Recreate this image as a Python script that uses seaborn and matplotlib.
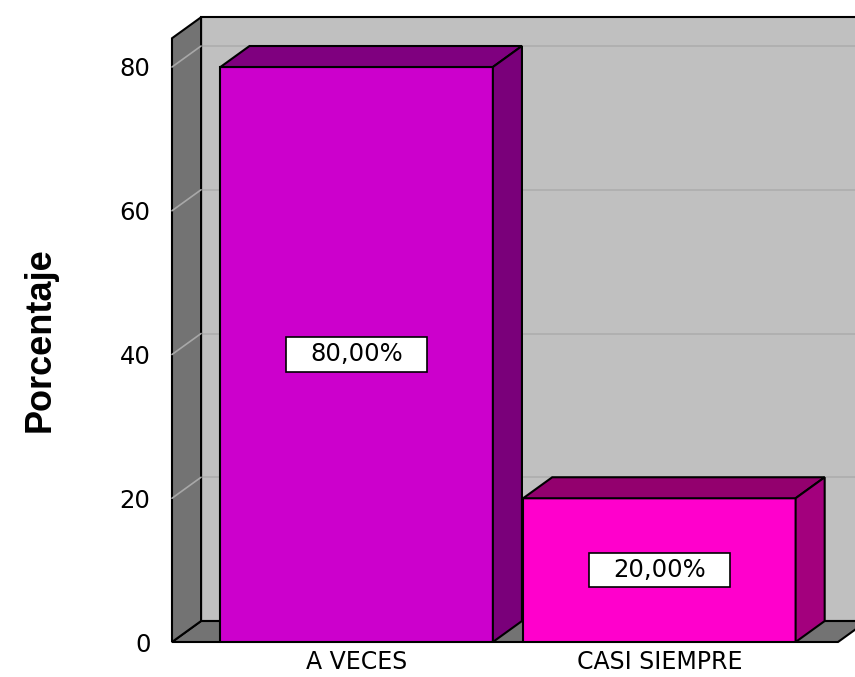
import matplotlib
matplotlib.use("Agg")
import matplotlib.pyplot as plt
from matplotlib.patches import Polygon, Rectangle
import seaborn as sns

# Data
categories = ["A VECES", "CASI SIEMPRE"]
percentages = [80.0, 20.0]
value_labels = ["80,00%", "20,00%"]
y_ticks = [0, 20, 40, 60, 80]

# Colours for each bar: front, top, side
front_colors = ["#CC00CC", "#FF00CC"]
top_colors = ["#7F007F", "#93006E"]
side_colors = ["#7A007A", "#A3007D"]

WALL_BACK = "#C0C0C0"
WALL_SIDE = "#737373"
FLOOR = "#737373"

sns.set_theme(style="white")
plt.rcParams["font.family"] = ["DejaVu Sans"]

fig = plt.figure(figsize=(8.55, 6.77), dpi=100)
ax = fig.add_axes([172 / 855, 35 / 677, 666 / 855, 603.75 / 677])

sns.barplot(x=categories, y=percentages, hue=categories, palette=front_colors,
            width=0.9, edgecolor="black", linewidth=1.5, legend=False,
            saturation=1, ax=ax)
bars = [p for p in ax.patches if isinstance(p, Rectangle)]

XL, XR = -0.61, 1.59
YT = 84
ax.set_xlim(XL, XR)
ax.set_ylim(0, YT)

# depth of the 3D box in data units
DX, DY = 0.096, 2.92

# back wall, floor and left wall
ax.add_patch(Polygon([(XL + DX, DY), (XR + DX, DY), (XR + DX, YT + DY), (XL + DX, YT + DY)],
                     closed=True, fc=WALL_BACK, ec="black", lw=1.5, zorder=0, clip_on=False))
for y in y_ticks[1:]:
    ax.plot([XL + DX, XR + DX], [y + DY, y + DY], color="#ADADAD", lw=1.2,
            zorder=0.5, clip_on=False)
ax.add_patch(Polygon([(XL, 0), (XR, 0), (XR + DX, DY), (XL + DX, DY)],
                     closed=True, fc=FLOOR, ec="black", lw=1.5, zorder=1, clip_on=False))
ax.add_patch(Polygon([(XL, 0), (XL, YT), (XL + DX, YT + DY), (XL + DX, DY)],
                     closed=True, fc=WALL_SIDE, ec="black", lw=1.5, zorder=1, clip_on=False))
for y in y_ticks[1:]:
    ax.plot([XL, XL + DX], [y, y + DY], color="#A8A8A8", lw=1.2, zorder=1.5, clip_on=False)

# 3D faces of each bar
for i, bar in enumerate(bars):
    bar.set_zorder(3)
    x0, w, h = bar.get_x(), bar.get_width(), bar.get_height()
    top = Polygon([(x0, h), (x0 + DX, h + DY), (x0 + w + DX, h + DY), (x0 + w, h)],
                  closed=True, fc=top_colors[i], ec="black", lw=1.5, zorder=3, clip_on=False)
    side = Polygon([(x0 + w, 0), (x0 + w, h), (x0 + w + DX, h + DY), (x0 + w + DX, DY)],
                   closed=True, fc=side_colors[i], ec="black", lw=1.5, zorder=3, clip_on=False)
    ax.add_patch(top)
    ax.add_patch(side)
    ax.text(x0 + w / 2, h / 2, value_labels[i], ha="center", va="center",
            fontsize=17.5, color="black", zorder=5,
            bbox=dict(boxstyle="square,pad=1.0", fc="white", ec="black", lw=1.2,
                      mutation_aspect=0.22))

ax.set_yticks(y_ticks)
ax.set_yticklabels([str(v) for v in y_ticks])
ax.tick_params(axis="y", length=0, pad=15.5, labelsize=17.5, labelcolor="black")
ax.tick_params(axis="x", length=0, pad=6, labelsize=17, labelcolor="black")
ax.set_xlabel("")
ax.set_ylabel("")
for s in ax.spines.values():
    s.set_visible(False)
ax.patch.set_alpha(0)
ax.grid(False)

fig.text(40 / 855, 1 - 340 / 677, "Porcentaje", rotation=90, ha="center", va="center",
         fontsize=26, fontweight="bold", color="black",
         family=["Liberation Sans", "DejaVu Sans"])

fig.savefig("out.png", dpi=100, facecolor="white")
